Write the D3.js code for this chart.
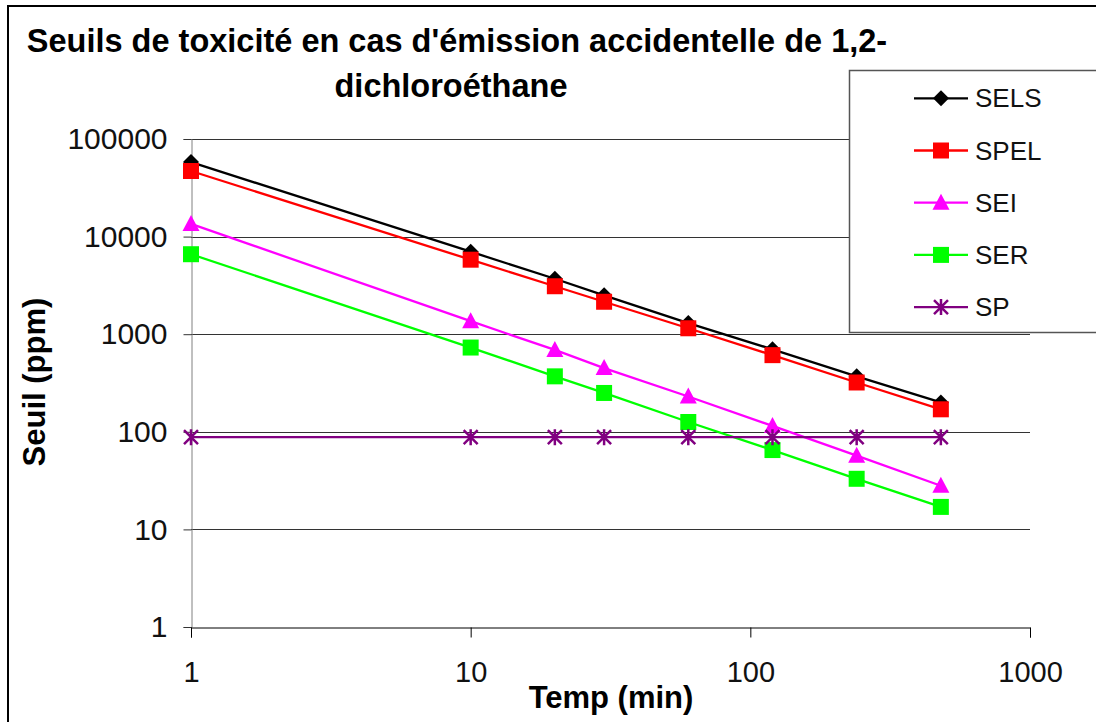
<!DOCTYPE html>
<html>
<head>
<meta charset="utf-8">
<script src="https://cdn.jsdelivr.net/npm/d3@7"></script>
<style>
body { margin: 0; background: #fff; }
text { font-family: Arial, "Liberation Sans", sans-serif; }
</style>
</head>
<body>
<script>
// Données
var temps = [1, 10, 20, 30, 60, 120, 240, 480];
var sels = [58000, 7000, 3700, 2500, 1300, 700, 370, 200];
var spel = [47000, 5800, 3100, 2150, 1150, 610, 320, 170];
var sei = [13500, 1360, 690, 450, 230, 115, 57, 28];
var ser = [6600, 730, 370, 250, 126, 65, 33, 17];
var sp = [88, 88, 88, 88, 88, 88, 88, 88];
var seriesNames = ["SELS", "SPEL", "SEI", "SER", "SP"];
var seriesColors = ["#000000", "#ff0000", "#ff00ff", "#00ff00", "#800080"];
var seriesMarkers = ["diamond", "square", "triangle", "square", "asterisk"];
var yTicks = [1, 10, 100, 1000, 10000, 100000];
var xTicks = [1, 10, 100, 1000];

var allSeries = [sels, spel, sei, ser, sp];

var width = 1096, height = 722;
var plot = {left: 191, right: 1030, top: 139, bottom: 627};

var svg = d3.select("body").append("svg")
	.attr("width", width)
	.attr("height", height);

// cadre extérieur
svg.append("rect")
	.attr("x", 8).attr("y", 6)
	.attr("width", width).attr("height", height)
	.attr("fill", "#fff").attr("stroke", "#000").attr("stroke-width", 2);

var x = d3.scaleLog().domain([1, 1000]).range([plot.left, plot.right]);
var y = d3.scaleLog().domain([1, 100000]).range([plot.bottom, plot.top]);

// grille horizontale
svg.selectAll(".grid").data(yTicks.slice(1)).enter().append("line")
	.attr("x1", plot.left).attr("x2", plot.right)
	.attr("y1", function(d){return Math.round(y(d)) + 0.5;})
	.attr("y2", function(d){return Math.round(y(d)) + 0.5;})
	.attr("stroke", "#333").attr("stroke-width", 1);

// axe Y
var yAxis = svg.append("g")
	.attr("transform", "translate(" + (plot.left + 0.5) + ",0)")
	.call(d3.axisLeft(y).tickValues(yTicks).tickFormat(d3.format("d")).tickSize(8).tickPadding(16));
yAxis.attr("font-family", null).attr("font-size", null);
yAxis.select(".domain").attr("stroke", "#808080");
yAxis.selectAll(".tick line").attr("stroke", "#333");
yAxis.selectAll("text").attr("font-size", 30).attr("fill", "#111");

// axe X
var xAxis = svg.append("g")
	.attr("transform", "translate(0," + (Math.round(plot.bottom) + 0.5) + ")")
	.call(d3.axisBottom(x).tickValues(xTicks).tickFormat(d3.format("d")).tickSize(10).tickPadding(24));
xAxis.attr("font-family", null).attr("font-size", null);
xAxis.select(".domain").attr("stroke", "#000");
xAxis.selectAll(".tick line").attr("stroke", "#000");
xAxis.selectAll("text").attr("font-size", 29).attr("fill", "#111");

// titres
svg.append("text")
	.attr("x", 457).attr("y", 52)
	.attr("text-anchor", "middle").attr("font-size", 32.5).attr("font-weight", "bold")
	.text("Seuils de toxicité en cas d'émission accidentelle de 1,2-");
svg.append("text")
	.attr("x", 451).attr("y", 97)
	.attr("text-anchor", "middle").attr("font-size", 32.5).attr("font-weight", "bold")
	.text("dichloroéthane");
svg.append("text")
	.attr("transform", "translate(45,382) rotate(-90)")
	.attr("text-anchor", "middle").attr("font-size", 31).attr("font-weight", "bold")
	.text("Seuil (ppm)");
svg.append("text")
	.attr("x", 611).attr("y", 708)
	.attr("text-anchor", "middle").attr("font-size", 31).attr("font-weight", "bold")
	.text("Temp (min)");

function markerPath(type) {
	if (type === "diamond") return "M0,-8L8,0L0,8L-8,0Z";
	if (type === "square") return "M-8,-8H8V8H-8Z";
	if (type === "triangle") return "M0,-9L8.5,7H-8.5Z";
	return "M-7,-7L7,7M-7,7L7,-7M0,-8V8";
}

function drawMarker(g, type, color) {
	var p = g.append("path").attr("d", markerPath(type));
	if (type === "asterisk") p.attr("fill", "none").attr("stroke", color).attr("stroke-width", 2.5);
	else p.attr("fill", color);
}

var line = d3.line()
	.x(function(d,i){return x(temps[i]);})
	.y(function(d){return y(d);});

allSeries.forEach(function(vals, k) {
	svg.append("path")
		.datum(vals)
		.attr("d", line)
		.attr("fill", "none")
		.attr("stroke", seriesColors[k])
		.attr("stroke-width", 2.3);
});
allSeries.forEach(function(vals, k) {
	vals.forEach(function(v, i) {
		var g = svg.append("g").attr("transform", "translate(" + x(temps[i]) + "," + y(v) + ")");
		drawMarker(g, seriesMarkers[k], seriesColors[k]);
	});
});

// légende
svg.append("rect")
	.attr("x", 849.5).attr("y", 70.5)
	.attr("width", 260).attr("height", 262)
	.attr("fill", "#fff").attr("stroke", "#555").attr("stroke-width", 1.5);
seriesNames.forEach(function(name, k) {
	var ly = 98.3 + k * 52.2;
	svg.append("line")
		.attr("x1", 914).attr("x2", 968)
		.attr("y1", ly).attr("y2", ly)
		.attr("stroke", seriesColors[k]).attr("stroke-width", 2.3);
	var g = svg.append("g").attr("transform", "translate(941," + ly + ")");
	drawMarker(g, seriesMarkers[k], seriesColors[k]);
	svg.append("text")
		.attr("x", 975).attr("y", ly + 9)
		.attr("font-size", 26).attr("fill", "#111")
		.text(name);
});
</script>
</body>
</html>
